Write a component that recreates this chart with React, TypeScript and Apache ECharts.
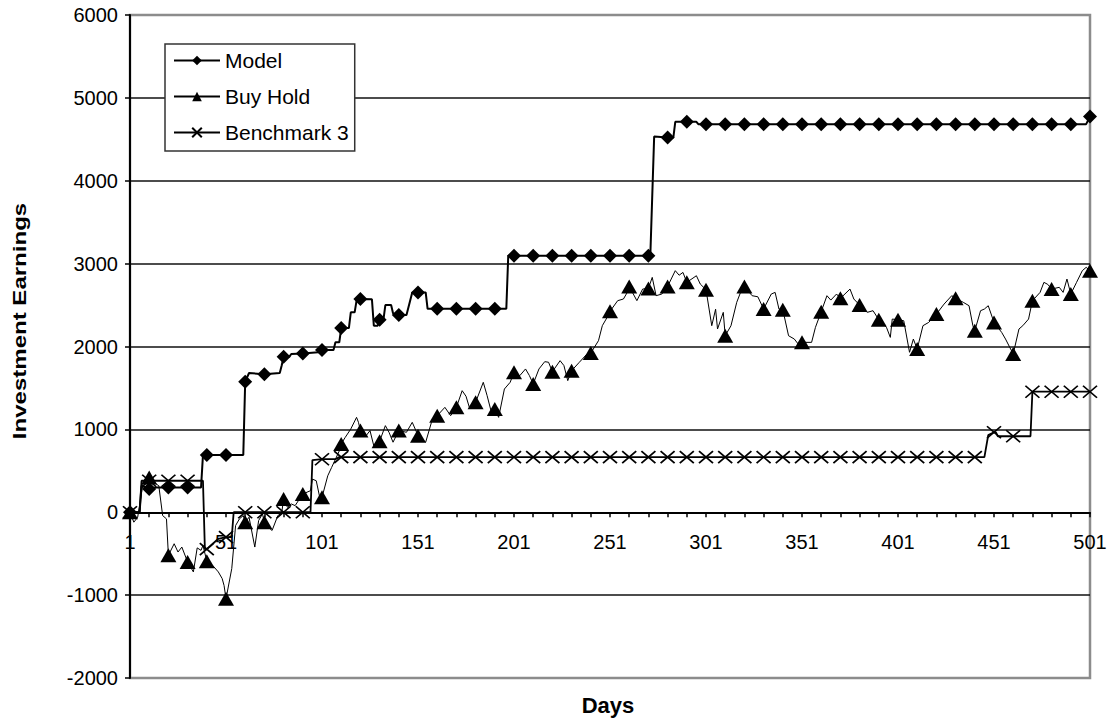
import React, { useEffect, useRef } from 'react';
import * as echarts from 'echarts';

// Category axis: trading days 1..501
const DAY_LABELS: string[] = Array.from({ length: 501 }, (_, i) => String(i + 1));

const Y_MIN = -2000;
const Y_MAX = 6000;
const Y_STEP = 1000;

// [day, earnings]
const MODEL: [number, number][] = [
  [1, 0], [6, 0], [7, 320], [11, 280], [14, 300], [21, 300], [31, 300], [38, 300], [39, 690], [41, 690],
  [51, 690], [60, 690], [61, 1576], [63, 1680], [71, 1665], [79, 1680], [80, 1770], [81, 1877], [84, 1877],
  [85, 1910], [91, 1917], [99, 1930], [101, 1958], [107, 1958], [108, 2050], [110, 2050], [111, 2223],
  [115, 2223], [116, 2412], [118, 2412], [119, 2553], [121, 2573], [127, 2570], [128, 2251], [130, 2251],
  [131, 2324], [133, 2324], [134, 2500], [137, 2500], [138, 2400], [141, 2380], [145, 2380], [148, 2653],
  [151, 2653], [155, 2653], [156, 2455], [161, 2455], [171, 2455], [181, 2455], [191, 2455], [197, 2455],
  [198, 3095], [201, 3095], [211, 3095], [221, 3095], [231, 3095], [241, 3095], [251, 3095], [261, 3095],
  [271, 3095], [272, 3095], [274, 4535], [281, 4522], [284, 4522], [285, 4711], [291, 4711], [296, 4711],
  [297, 4683], [301, 4683], [311, 4683], [321, 4683], [331, 4683], [341, 4683], [351, 4683], [361, 4683],
  [371, 4683], [381, 4683], [391, 4683], [401, 4683], [411, 4683], [421, 4683], [431, 4683], [441, 4683],
  [451, 4683], [461, 4683], [471, 4683], [481, 4683], [491, 4683], [499, 4683], [501, 4776],
];

const BUY_HOLD: [number, number][] = [
  [1, 0], [3, -120], [5, -60], [8, 380], [11, 420], [14, 350], [16, 320], [18, -40], [20, -80], [21, -520],
  [24, -380], [26, -480], [28, -420], [31, -600], [34, -720], [36, -430], [38, -460], [39, -400], [41, -590],
  [44, -640], [47, -720], [49, -800], [50, -885], [51, -1045], [54, -680], [56, -160], [58, -80], [60, -40],
  [61, -120], [63, -60], [66, -420], [68, -100], [70, -20], [71, -120], [73, -180], [75, -220], [78, -40],
  [80, -10], [81, 160], [83, 60], [85, 100], [87, 80], [89, 150], [91, 220], [95, 260], [96, 400], [98, 380],
  [100, 160], [101, 180], [104, 440], [106, 540], [108, 640], [110, 740], [111, 824], [113, 900], [116, 1005],
  [119, 1145], [120, 1085], [121, 985], [124, 925], [126, 985], [128, 800], [131, 856], [134, 1045],
  [136, 960], [138, 845], [141, 985], [145, 965], [148, 1085], [150, 980], [151, 924], [155, 845],
  [158, 1085], [161, 1165], [165, 1266], [168, 1165], [171, 1266], [174, 1467], [176, 1400], [178, 1246],
  [181, 1326], [185, 1568], [187, 1407], [189, 1226], [191, 1246], [193, 1145], [196, 1487], [199, 1568],
  [201, 1688], [204, 1648], [207, 1729], [209, 1650], [211, 1548], [214, 1729], [217, 1817], [219, 1810],
  [221, 1696], [225, 1829], [227, 1770], [229, 1588], [231, 1708], [235, 1809], [239, 1909], [241, 1921],
  [245, 2070], [247, 2251], [249, 2331], [251, 2424], [255, 2553], [258, 2573], [260, 2653], [261, 2725],
  [265, 2553], [268, 2693], [271, 2701], [273, 2834], [275, 2613], [278, 2633], [281, 2725], [285, 2915],
  [287, 2860], [289, 2894], [291, 2774], [296, 2854], [298, 2754], [301, 2685], [304, 2251], [306, 2450],
  [307, 2211], [310, 2412], [311, 2130], [314, 2250], [317, 2533], [319, 2653], [321, 2725], [325, 2613],
  [328, 2600], [331, 2452], [335, 2633], [337, 2653], [339, 2452], [341, 2444], [344, 2130], [347, 2090],
  [349, 2030], [351, 2050], [356, 2050], [358, 2231], [361, 2420], [364, 2613], [366, 2560], [369, 2633],
  [371, 2581], [376, 2693], [378, 2573], [381, 2500], [385, 2412], [388, 2432], [391, 2323], [395, 2231],
  [397, 2110], [398, 2331], [401, 2323], [404, 2311], [407, 1930], [409, 2090], [411, 1969], [414, 2251],
  [417, 2291], [421, 2391], [425, 2512], [429, 2613], [431, 2581], [435, 2533], [438, 2492], [440, 2251],
  [441, 2190], [444, 2432], [446, 2452], [448, 2492], [451, 2291], [455, 2170], [457, 2090], [461, 1909],
  [464, 2211], [466, 2251], [469, 2331], [471, 2552], [475, 2653], [477, 2774], [479, 2750], [481, 2693],
  [485, 2714], [487, 2653], [489, 2814], [491, 2633], [494, 2774], [497, 2915], [499, 2955], [501, 2914],
];

const BENCHMARK_3: [number, number][] = [
  [1, 0], [6, 0], [7, 380], [11, 380], [21, 380], [31, 380], [39, 380], [40, -445], [41, -445], [47, -320],
  [51, -300], [54, -300], [55, 0], [61, 0], [71, 0], [81, 0], [91, 0], [95, 0], [96, 630], [101, 640],
  [108, 640], [110, 665], [111, 665], [121, 665], [131, 665], [141, 665], [151, 665], [161, 665], [171, 665],
  [181, 665], [191, 665], [201, 665], [211, 665], [221, 665], [231, 665], [241, 665], [251, 665], [261, 665],
  [271, 665], [281, 665], [291, 665], [301, 665], [311, 665], [321, 665], [331, 665], [341, 665], [351, 665],
  [361, 665], [371, 665], [381, 665], [391, 665], [401, 665], [411, 665], [421, 665], [431, 665], [441, 665],
  [446, 665], [448, 930], [451, 965], [452, 965], [453, 917], [461, 917], [470, 917], [471, 1455],
  [481, 1455], [491, 1455], [501, 1455],
];

const SERIES_NAMES = ['Model', 'Buy Hold', 'Benchmark 3'];
const MARKER_EVERY = 10;

const FONT = '"Liberation Sans", Arial, Helvetica, sans-serif';

function toData(points: [number, number][]) {
  return points.map(([d, v]) =>
    (d - 1) % MARKER_EVERY === 0
      ? { value: [String(d), v] }
      : { value: [String(d), v], symbol: 'none' }
  );
}

export default function App() {
  const ref = useRef<HTMLDivElement>(null);

  useEffect(() => {
    if (!ref.current) return;
    const chart = echarts.init(ref.current, null, { renderer: 'svg' });
    const baseSeries = {
      type: 'line' as const,
      showAllSymbol: true,
      silent: true,
      emphasis: { disabled: true },
      animation: false,
    };
    chart.setOption({
      animation: false,
      backgroundColor: '#ffffff',
      textStyle: { fontFamily: FONT },
      grid: {
        left: 130,
        right: 23,
        top: 15,
        bottom: 40,
        show: true,
        borderColor: '#8c8c8c',
        borderWidth: 2.5,
        backgroundColor: 'transparent',
      },
      legend: {
        data: SERIES_NAMES,
        orient: 'vertical',
        left: 165,
        top: 44,
        padding: [6, 6, 8, 8],
        itemGap: 15,
        itemWidth: 46,
        itemHeight: 12,
        backgroundColor: '#ffffff',
        borderColor: '#333333',
        borderWidth: 1.5,
        selectedMode: false,
        textStyle: { fontSize: 21, color: '#000', fontFamily: FONT },
      },
      xAxis: {
        type: 'category',
        data: DAY_LABELS,
        boundaryGap: false,
        axisLine: { onZero: true, lineStyle: { color: '#000', width: 2 } },
        axisTick: { show: true, interval: 9, length: 5, lineStyle: { color: '#000', width: 1.5 } },
        axisLabel: { interval: 49, fontSize: 20, color: '#000', margin: -146, fontFamily: FONT },
        splitLine: { show: false },
      },
      yAxis: {
        type: 'value',
        min: Y_MIN,
        max: Y_MAX,
        interval: Y_STEP,
        axisLine: { show: true, lineStyle: { color: '#000', width: 2 } },
        axisTick: { show: true, length: 5, lineStyle: { color: '#000', width: 1.5 } },
        axisLabel: {
          fontSize: 20,
          color: '#000',
          margin: 12,
          fontFamily: FONT,
          formatter: (v: number) => String(v),
        },
        splitLine: { show: true, showMinLine: false, showMaxLine: false, lineStyle: { color: '#111', width: 1.5 } },
      },
      graphic: [
        {
          type: 'text',
          x: 20,
          y: 321,
          rotation: Math.PI / 2,
          scaleX: 1.3,
          style: {
            text: 'Investment Earnings',
            fontSize: 18.5,
            fontWeight: 'bold',
            fontFamily: FONT,
            fill: '#000',
            align: 'center',
            verticalAlign: 'middle',
          },
        },
        {
          type: 'text',
          x: 608,
          y: 705,
          style: {
            text: 'Days',
            fontSize: 22,
            fontWeight: 'bold',
            fontFamily: FONT,
            fill: '#000',
            align: 'center',
            verticalAlign: 'middle',
          },
        },
      ],
      series: [
        {
          ...baseSeries,
          name: SERIES_NAMES[0],
          data: toData(MODEL),
          symbol: 'diamond',
          symbolSize: 14,
          itemStyle: { color: '#000' },
          lineStyle: { color: '#000', width: 2 },
          z: 4,
        },
        {
          ...baseSeries,
          name: SERIES_NAMES[1],
          data: toData(BUY_HOLD),
          symbol: 'triangle',
          symbolSize: [16, 14],
          itemStyle: { color: '#000' },
          lineStyle: { color: '#000', width: 1 },
          z: 3,
        },
        {
          ...baseSeries,
          name: SERIES_NAMES[2],
          data: toData(BENCHMARK_3),
          symbol: 'path://M0,0L10,10M10,0L0,10',
          symbolSize: [14, 12],
          itemStyle: { color: '#000', borderColor: '#000', borderWidth: 1.6 },
          lineStyle: { color: '#000', width: 1.8 },
          z: 3,
        },
      ],
    });
    return () => chart.dispose();
  }, []);

  return (
    <div
      ref={ref}
      style={{ position: 'fixed', left: 0, top: 0, width: 1113, height: 718, background: '#fff' }}
    />
  );
}
